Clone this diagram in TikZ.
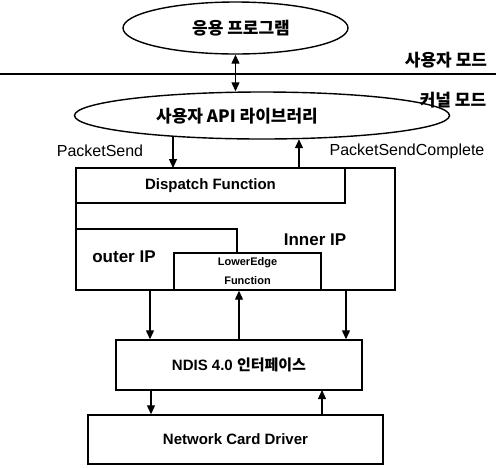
\documentclass[tikz,border=0pt]{standalone}
\usepackage{fontspec}
\setmainfont{Liberation Sans}
\newfontfamily\kr{Noto Sans CJK KR}
\usetikzlibrary{arrows.meta,shapes.geometric}

\begin{document}
\begin{tikzpicture}[x=1pt,y=-1pt,line width=1.4pt,
    >={Triangle[length=9pt,width=8pt]},
    box/.style={draw,rectangle,inner sep=0pt},
    oval/.style={draw,ellipse,inner sep=0pt},
    arr/.style={->,line width=1.2pt},
    lbl/.style={font=\bfseries\fontsize{15}{18}\selectfont},
    krlbl/.style={font=\kr\bfseries\fontsize{17}{20}\selectfont},
    call/.style={font=\fontsize{16}{19}\selectfont}]
    \useasboundingbox (0,0) rectangle (496,467);

    % user mode / kernel mode
    \node[oval,minimum width=225,minimum height=52] (app) at (235.5,28) {};
    \node[krlbl] (apptxt) at (241,28) {응용 프로그램};
    \coordinate (sepl) at (0,74);
    \coordinate (sepr) at (496,74);
    \draw[line width=1.6pt] (sepl) -- (sepr);
    \node[krlbl] (umode) at (446,60) {사용자 모드};
    \node[krlbl] (kmode) at (453,100) {커널 모드};
    \node[oval,minimum width=375,minimum height=47] (lib) at (262,115.5) {};
    \node[krlbl] (libtxt) at (237,116) {사용자 API 라이브러리};
    \draw[<->,line width=1.2pt] (app.south) -- (app.south |- lib.north);

    % IP driver
    \node[box,minimum width=319,minimum height=122] (inner) at (235.5,229) {};
    \node[box,lbl,minimum width=269,minimum height=35] (disp) at (210.5,185.5) {Dispatch Function};
    \node[box,minimum width=147,minimum height=37,align=center,
          font=\bfseries\fontsize{11}{19}\selectfont] (lower) at (247.5,271.5) {LowerEdge\\Function};
    \coordinate (outl) at (76,229);
    \coordinate (outr) at (237,229);
    \draw (outl) -- (outr) -- (outr |- lower.north);
    \node[lbl,font=\bfseries\fontsize{17}{20}\selectfont] (outtxt) at (124,257) {outer IP};
    \node[lbl,font=\bfseries\fontsize{17}{20}\selectfont] (intxt) at (315,240) {Inner IP};

    \coordinate (ps) at (173,168);
    \coordinate (psc) at (299,168);
    \draw[arr] (ps |- lib.193) -- (ps);
    \draw[arr] (psc) -- (psc |- lib.328);
    \node[call] (pstxt) at (100,151) {PacketSend};
    \node[call] (psctxt) at (407,151) {PacketSendComplete};

    % NDIS and card driver
    \node[box,minimum width=246,minimum height=50,font=\bfseries\fontsize{15}{19}\selectfont] (ndis) at (239,365) {NDIS 4.0 {\kr 인터페이스}};
    \node[box,lbl,minimum width=295,minimum height=49] (ncd) at (235.5,439.5) {Network Card Driver};

    \coordinate (d1) at (150,290);
    \coordinate (d2) at (346,290);
    \draw[arr] (d1) -- (d1 |- ndis.north);
    \draw[arr] (d2) -- (d2 |- ndis.north);
    \draw[arr] (ndis.north) -- (lower.south -| ndis.north);
    \coordinate (n1) at (151,390);
    \coordinate (n2) at (322,390);
    \draw[arr] (n1) -- (n1 |- ncd.north);
    \draw[arr] (n2 |- ncd.north) -- (n2);
\end{tikzpicture}
\end{document}
